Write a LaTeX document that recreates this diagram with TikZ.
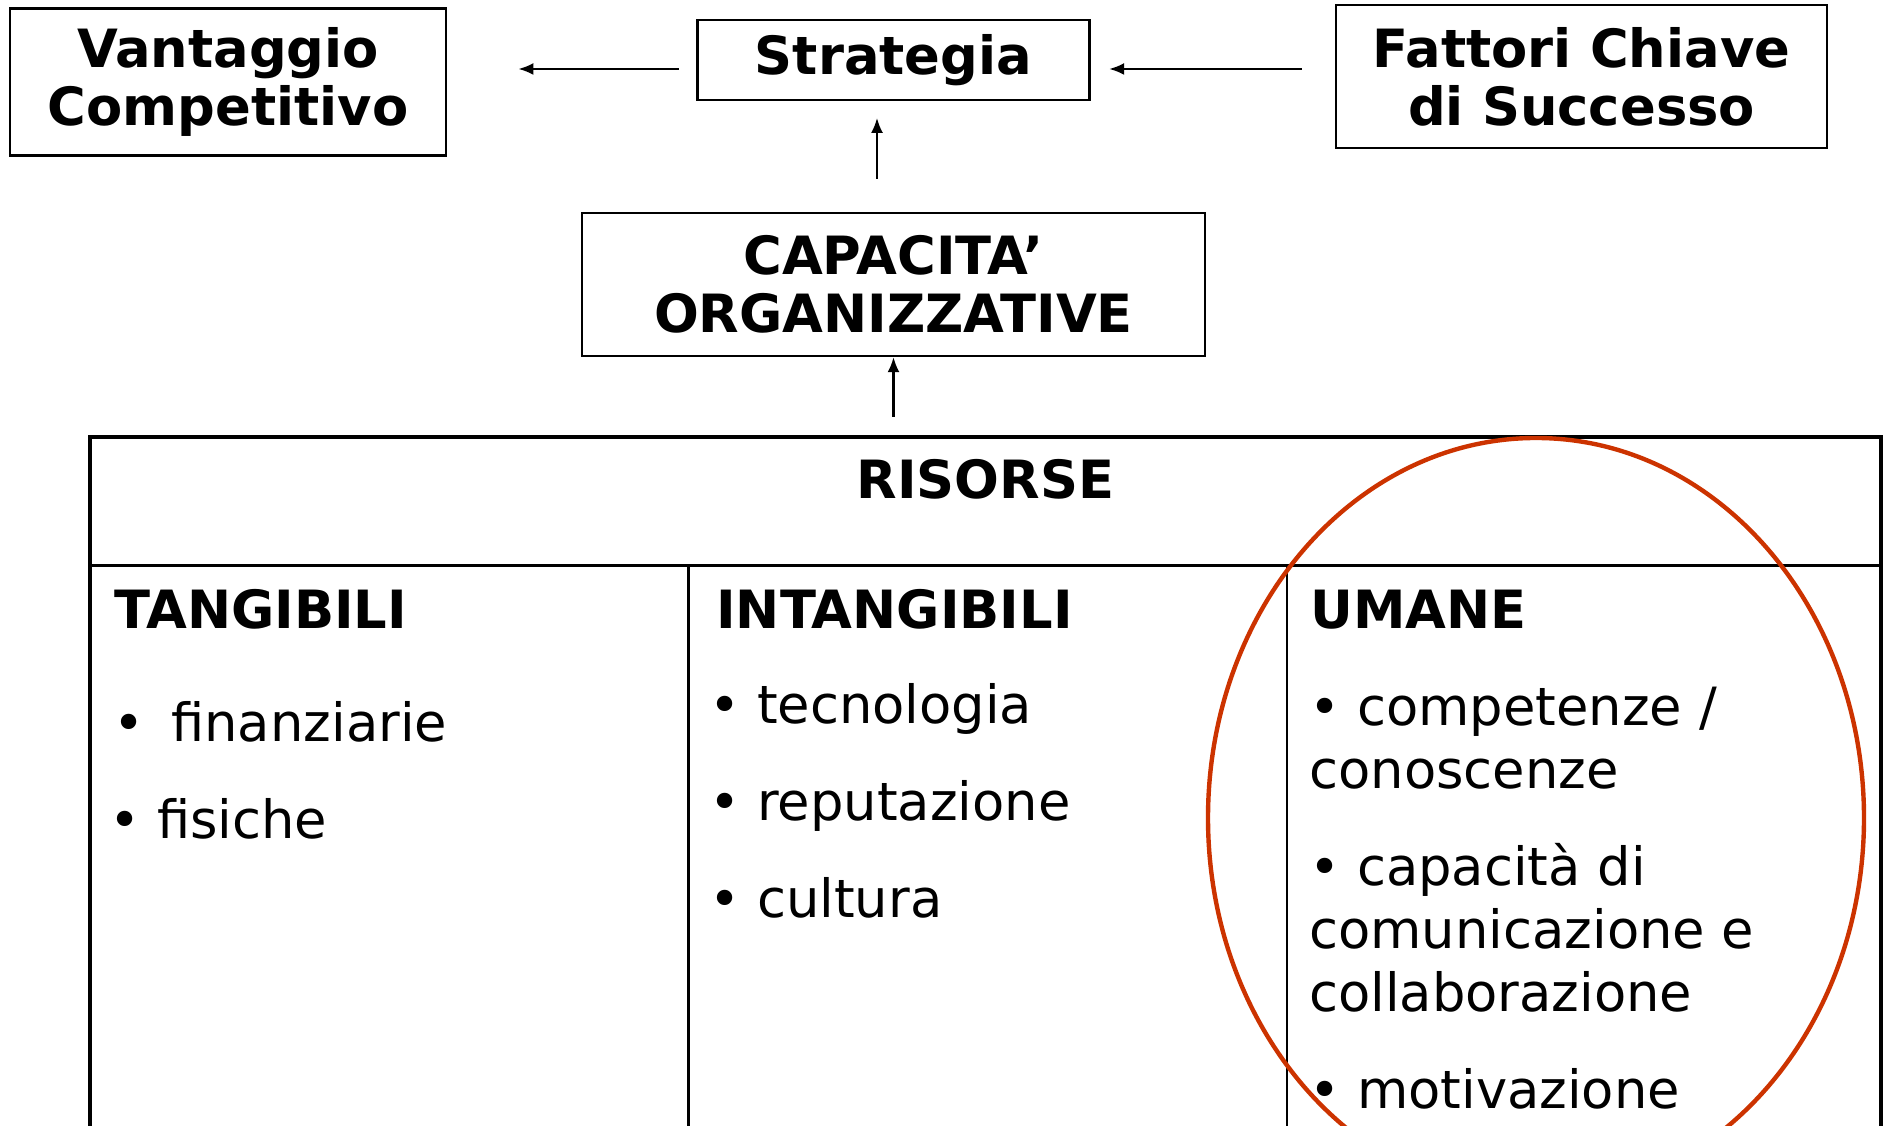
\documentclass[tikz,border=0pt]{standalone}
\usepackage{fontspec}
\setmainfont{DejaVu Sans}
\usetikzlibrary{positioning, arrows.meta}
\definecolor{ovalred}{RGB}{204,51,0}

\begin{document}
\begin{tikzpicture}[
	box/.style={draw, line width=1.3pt, align=center, inner sep=0pt, font=\fontsize{30}{33}\selectfont\bfseries},
	arr/.style={-{Latex[length=3mm, width=2.4mm]}, line width=1.3pt},
	head/.style={anchor=base west, inner sep=0pt, font=\fontsize{30}{36}\selectfont\bfseries},
	item/.style={anchor=base west, inner sep=0pt, align=left, font=\fontsize{30}{36}\selectfont}
]
	\useasboundingbox (0, 0) rectangle (37.72, 22.52);

	\node[box, minimum width=8.73cm, minimum height=2.94cm] (vant) at (4.56, 20.88) {Vantaggio\\Competitivo};
	\node[box, minimum width=7.84cm, minimum height=1.59cm] (strat) at (17.87, 21.32) {Strategia};
	\node[box, minimum width=9.82cm, minimum height=2.86cm] (fatt) at (31.63, 20.99) {Fattori Chiave\\di Successo};
	\node[box, minimum width=12.45cm, minimum height=2.86cm] (capac) at (17.87, 16.83) {CAPACITA’\\ORGANIZZATIVE};

	\node[draw, line width=2.8pt, minimum width=35.82cm, minimum height=14.78cm, inner sep=0pt] (ris) at (19.71, 6.39) {};
	\draw[line width=1.4pt] (1.8, 11.21) -- (37.62, 11.21);
	\draw[line width=1.4pt] (13.77, 11.21) -- (13.77, -1);
	\draw[line width=1.4pt] (25.74, 11.21) -- (25.74, -1);

	\draw[arr, transform canvas={yshift=-1.8mm}, shorten <=3.5mm, shorten >=14.2mm] (strat.west) -- (strat.west -| vant.east);
	\draw[arr, transform canvas={yshift=-1.8mm}, shorten <=6.6mm, shorten >=3.7mm] (fatt.west |- strat.west) -- (strat.east);
	\draw[arr, transform canvas={xshift=-3.3mm}, shorten <=6.6mm, shorten >=3.4mm] (capac.north) -- (strat.south);
	\draw[arr, shorten <=3.6mm] (ris.north -| capac.south) -- (capac.south);

	\node[head, anchor=base] (risl) at (19.71, 12.54) {RISORSE};
	\node[head] (tang) at (2.28, 9.94) {TANGIBILI};
	\node[head] (intang) at (14.32, 9.94) {INTANGIBILI};
	\node[head] (uman) at (26.20, 9.94) {UMANE};

	\foreach \n/\x/\y/\t in {tang1/2.27/7.68/{•\hspace{0.5em}finanziarie}, tang2/2.18/5.74/{• fisiche},
		intang1/14.18/8.04/{• tecnologia}, intang2/14.18/6.10/{• reputazione}, intang3/14.18/4.16/{• cultura},
		uman1/26.18/6.74/{• competenze /\\conoscenze}, uman2/26.18/2.28/{• capacità di\\comunicazione e\\collaborazione},
		uman3/26.18/0.34/{• motivazione}} {
		\node[item] (\n) at (\x, \y) {\t};
	};

	\draw[ovalred, line width=2.5pt] (30.72, 6.16) ellipse [x radius=6.56, y radius=7.60];
\end{tikzpicture}
\end{document}
